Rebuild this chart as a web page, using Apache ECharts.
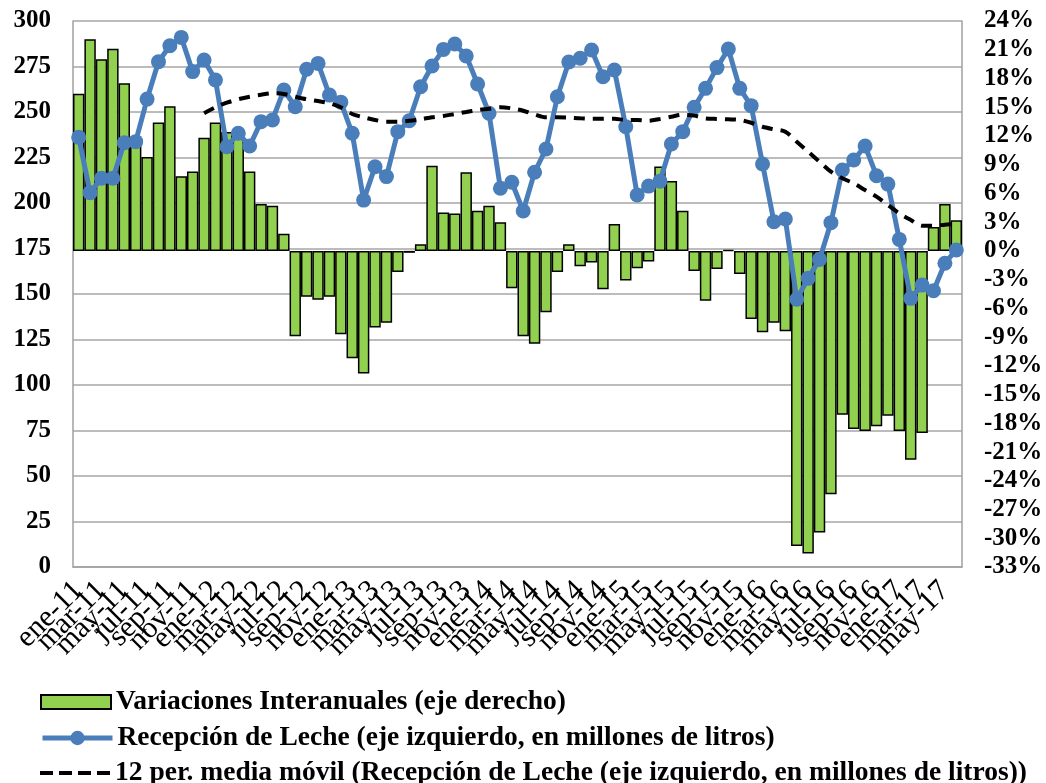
<!DOCTYPE html>
<html>
<head>
<meta charset="utf-8">
<script src="https://cdn.jsdelivr.net/npm/echarts@6/dist/echarts.min.js"></script>
<style>
html,body{margin:0;padding:0;background:#fff;}
#chart{width:1046px;height:783px;}
</style>
</head>
<body>
<div id="chart"></div>
<script>
const months = ['ene','feb','mar','abr','may','jun','jul','ago','sep','oct','nov','dic'];
const years = ['11','12','13','14','15','16','17'];
const categories = [];
years.forEach(y => months.forEach(m => categories.push(m + '-' + y)));
categories.length = 78; // ene-11 .. jun-17

const variaciones = [
  16.4, 22.1, 20.0, 21.1, 17.5, 11.5, 9.8, 13.4, 15.1, 7.8, 8.3, 11.8,
  13.4, 12.4, 12.0, 8.3, 4.9, 4.7, 1.8, -8.9, -4.8, -5.1, -4.8, -8.7,
  -11.2, -12.8, -8.0, -7.5, -2.2, -0.2, 0.7, 8.9, 4.0, 3.9, 8.2, 4.2,
  4.7, 3.0, -3.9, -8.9, -9.7, -6.4, -2.2, 0.7, -1.6, -1.2, -4.0, 2.8,
  -3.1, -1.8, -1.1, 8.8, 7.3, 4.2, -2.1, -5.2, -1.9, 0.1, -2.4, -7.1,
  -8.5, -7.5, -8.4, -30.8, -31.6, -29.4, -25.4, -17.1, -18.6, -18.8, -18.3, -17.2,
  -18.8, -21.8, -19.0, 2.5, 4.9, 3.2
];

const recepcion = [
  236.1, 205.7, 213.6, 213.6, 233.1, 233.7, 257.1, 277.6, 286.4, 291.0, 272.2, 278.6,
  267.6, 230.9, 238.3, 231.3, 244.7, 245.6, 262.1, 252.9, 273.5, 276.7, 259.3, 255.4,
  238.3, 201.6, 219.9, 214.5, 239.2, 245.2, 263.9, 275.3, 284.4, 287.4, 280.8, 265.4,
  249.3, 208.1, 211.4, 195.6, 216.9, 229.7, 258.4, 277.5, 279.5, 284.1, 269.4, 273.1,
  241.9, 204.4, 209.3, 212.0, 232.4, 239.2, 252.6, 263.0, 274.4, 284.6, 263.0, 253.5,
  221.4, 189.7, 191.2, 147.1, 158.6, 169.0, 189.2, 218.1, 223.6, 231.3, 215.0, 210.4,
  180.0, 147.6, 154.9, 151.8, 166.9, 174.2
];

const mediaMovil = [
  null, null, null, null, null, null, null, null, null, null, null, 249.3,
  252.6, 255.1, 257.0, 258.4, 259.5, 260.3, 259.9, 258.4, 257.0, 256.0, 254.8, 252.6,
  248.9, 247.1, 245.6, 244.7, 244.7, 245.2, 246.0, 247.1, 247.8, 248.9, 250.0, 251.1,
  251.8, 252.6, 252.0, 250.7, 248.7, 247.1, 247.1, 246.9, 246.5, 246.3, 246.3, 246.3,
  245.6, 245.6, 245.2, 246.2, 247.4, 248.5, 248.0, 246.5, 246.2, 246.0, 245.6, 244.1,
  241.9, 240.5, 239.2, 233.7, 228.2, 222.7, 217.2, 213.6, 210.8, 207.1, 203.5, 198.9,
  194.3, 190.7, 187.5, 187.5, 188.1, 188.5
];

const nameBars = 'Variaciones Interanuales (eje derecho)';
const nameLine = 'Recepción de Leche (eje izquierdo, en millones de litros)';
const nameMA = '12 per. media móvil (Recepción de Leche (eje izquierdo, en millones de litros))';

const serif = '"Liberation Serif", "Times New Roman", serif';
const legendText = {fontFamily: serif, fontWeight: 'bold', fontSize: 27.5, color: '#000'};
const legendBase = {orient: 'horizontal', left: 40, itemWidth: 70, itemHeight: 14, itemGap: 8,
  textStyle: legendText, selectedMode: false, padding: 0};

const chart = echarts.init(document.getElementById('chart'), null, {renderer: 'canvas'});
chart.setOption({
  animation: false,
  backgroundColor: '#fff',
  grid: {left: 73, right: 84, top: 21, bottom: 216, containLabel: false},
  legend: [
    Object.assign({}, legendBase, {top: 688, data: [{name: nameBars, icon: 'rect'}]}),
    Object.assign({}, legendBase, {top: 724, itemHeight: 18,
      data: [{name: nameLine, lineStyle: {width: 5, color: '#4a7ebb'}}]}),
    Object.assign({}, legendBase, {top: 759, data: [{name: nameMA,
      icon: 'path://M0,0h13v4h-13z M19,0h13v4h-13z M38,0h13v4h-13z M57,0h13v4h-13z'}]})
  ],
  xAxis: {
    type: 'category', data: categories, boundaryGap: true,
    axisLine: {show: true, lineStyle: {color: '#a0a0a0', width: 1.5}},
    axisTick: {show: false},
    axisLabel: {interval: 0, formatter: (v, i) => (i % 2 === 0 ? v : ''),
      rotate: 45, fontFamily: serif, fontSize: 30,
      color: '#000', margin: 19, hideOverlap: false}
  },
  yAxis: [
    {
      type: 'value', min: 0, max: 300, interval: 25, position: 'left',
      axisLine: {show: true, lineStyle: {color: '#a0a0a0', width: 1.5}},
      axisTick: {show: false},
      splitLine: {show: true, lineStyle: {color: '#a6a6a6', width: 1.5}},
      axisLabel: {fontFamily: serif, fontWeight: 'bold', fontSize: 25, color: '#000', margin: 22}
    },
    {
      type: 'value', min: -33, max: 24, interval: 3, position: 'right',
      axisLine: {show: true, lineStyle: {color: '#a0a0a0', width: 1.5}},
      axisTick: {show: false},
      splitLine: {show: false},
      axisLabel: {fontFamily: serif, fontWeight: 'bold', fontSize: 25, color: '#000', margin: 22,
        formatter: v => v + '%'}
    }
  ],
  series: [
    {
      name: nameBars, type: 'bar', yAxisIndex: 1, data: variaciones,
      barCategoryGap: '0%',
      itemStyle: {color: '#92d050', borderColor: '#000', borderWidth: 1.5},
      z: 1
    },
    {
      name: nameLine, type: 'line', yAxisIndex: 0, data: recepcion,
      symbol: 'circle', symbolSize: 15, showAllSymbol: true,
      lineStyle: {color: '#4a7ebb', width: 5},
      itemStyle: {color: '#4a7ebb'},
      z: 3
    },
    {
      name: nameMA, type: 'line', yAxisIndex: 0, data: mediaMovil,
      symbol: 'none', smooth: 0.3,
      lineStyle: {color: '#000', width: 4, type: [11, 8]},
      itemStyle: {color: '#000'},
      z: 4
    }
  ]
});
</script>
</body>
</html>
